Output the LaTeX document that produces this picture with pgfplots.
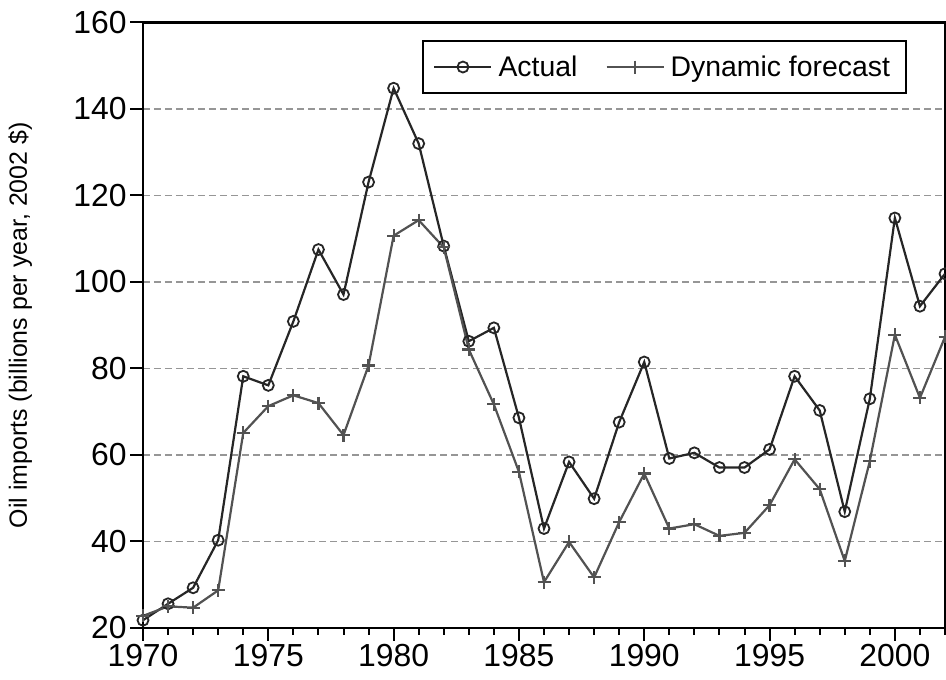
\documentclass[border=0pt]{standalone}
\usepackage{fontspec}
\setmainfont{Liberation Sans}
\usepackage{pgfplots}
\pgfplotsset{compat=1.18}
\definecolor{actcol}{HTML}{262626}
\definecolor{fcol}{HTML}{525252}
\definecolor{gridcol}{HTML}{969696}
\begin{document}
\begin{tikzpicture}
\begin{axis}[
  scale only axis,
  width=802bp, height=605.5bp,
  xmin=1970, xmax=2002, ymin=20, ymax=160,
  xtick={1970,1975,...,2000},
  minor xtick={1971,1972,1973,1974,1976,1977,1978,1979,1981,1982,1983,1984,1986,1987,1988,1989,1991,1992,1993,1994,1996,1997,1998,1999,2001,2002},
  ytick={20,40,...,160},
  xtick pos=bottom, ytick pos=left,
  tick align=outside,
  major tick length=13bp, minor tick length=7bp,
  every tick/.style={black, line width=2bp},
  axis line style={line width=2.5bp, black},
  ymajorgrids,
  major grid style={gridcol, line width=1.2bp, dash pattern=on 7bp off 4bp},
  /pgf/number format/assume math mode=true,
  /pgf/number format/1000 sep={},
  ticklabel style={font=\fontsize{32}{38}\selectfont},
  ylabel={Oil imports (billions per year, 2002 \$)},
  ylabel style={at={(axis description cs:-0.153,0.5)}, anchor=center, font=\fontsize{25}{30}\selectfont},
  legend columns=2,
  legend cell align=left,
  legend style={at={(0.9526,0.9711)}, anchor=north east, draw=black, line width=2bp, fill=white,
    font=\fontsize{28.5}{32}\selectfont, inner xsep=10bp, inner ysep=9bp,
    nodes={inner sep=6bp},
    /tikz/every even column/.append style={column sep=22bp}},
  legend image code/.code={\draw[mark repeat=2, mark phase=2, #1] plot coordinates {(0bp,0bp) (28.5bp,0bp) (57bp,0bp)};},
]
\addplot[actcol, line width=2.2bp, mark=o, mark size=5.5bp, mark options={fill=white, solid, line width=1.8bp}] coordinates {
(1970,21.8) (1971,25.6) (1972,29.3) (1973,40.3) (1974,78.2) (1975,76.1) (1976,90.9) (1977,107.5) (1978,97.1) (1979,123.1)
(1980,144.8) (1981,132.0) (1982,108.3) (1983,86.3) (1984,89.4) (1985,68.6) (1986,43.0) (1987,58.4) (1988,49.9) (1989,67.6)
(1990,81.5) (1991,59.2) (1992,60.5) (1993,57.1) (1994,57.1) (1995,61.3) (1996,78.2) (1997,70.3) (1998,46.9) (1999,73.0)
(2000,114.8) (2001,94.4) (2002,101.9)};
\addlegendentry{Actual}
\addplot[fcol, line width=2.2bp, mark=+, mark size=6.5bp, mark options={solid, line width=2.2bp}] coordinates {
(1970,22.8) (1971,25.0) (1972,24.7) (1973,28.7) (1974,65.1) (1975,71.3) (1976,73.8) (1977,72.0) (1978,64.6) (1979,80.7)
(1980,110.7) (1981,114.3) (1982,108.0) (1983,84.4) (1984,71.7) (1985,56.1) (1986,30.6) (1987,39.9) (1988,31.7) (1989,44.5)
(1990,55.7) (1991,43.0) (1992,44.0) (1993,41.3) (1994,42.0) (1995,48.4) (1996,59.0) (1997,52.1) (1998,35.5) (1999,58.6)
(2000,87.8) (2001,73.2) (2002,87.3)};
\addlegendentry{Dynamic forecast}
\end{axis}
\pgfresetboundingbox
\path ([xshift=-143bp,yshift=-52bp]current axis.south west) rectangle ([xshift=1bp,yshift=22.5bp]current axis.north east);
\end{tikzpicture}
\end{document}
